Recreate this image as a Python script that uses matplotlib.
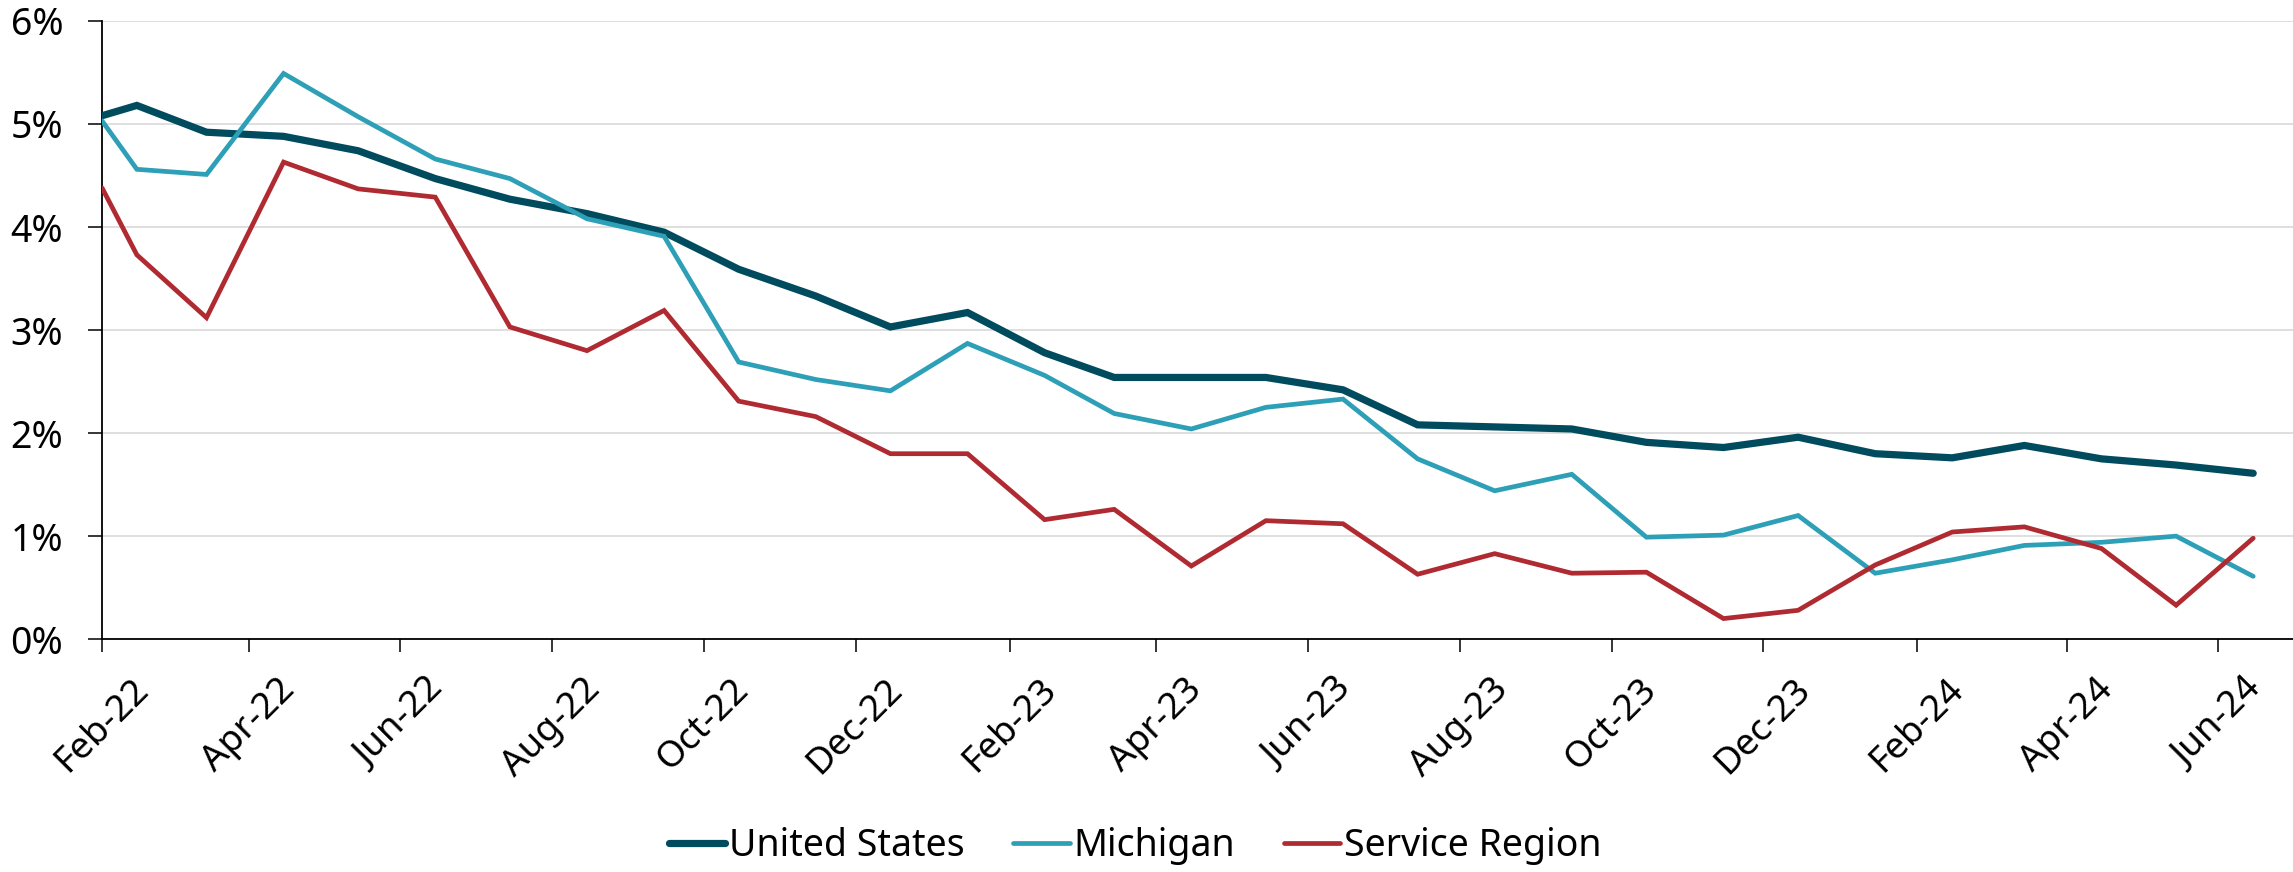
import matplotlib
matplotlib.use("Agg")
import matplotlib.pyplot as plt
import matplotlib.dates as mdates
from matplotlib.ticker import FuncFormatter, MultipleLocator
import pandas as pd

plt.rcParams['font.family'] = ['Noto Sans', 'DejaVu Sans']

dates = ["2022-02-01", "2022-02-15", "2022-03-15", "2022-04-15", "2022-05-15", "2022-06-15",
         "2022-07-15", "2022-08-15", "2022-09-15", "2022-10-15", "2022-11-15", "2022-12-15",
         "2023-01-15", "2023-02-15", "2023-03-15", "2023-04-15", "2023-05-15", "2023-06-15",
         "2023-07-15", "2023-08-15", "2023-09-15", "2023-10-15", "2023-11-15", "2023-12-15",
         "2024-01-15", "2024-02-15", "2024-03-15", "2024-04-15", "2024-05-15", "2024-06-15"]

united_states = [5.08, 5.18, 4.92, 4.88, 4.74, 4.47, 4.27, 4.13, 3.95, 3.59, 3.33, 3.03,
                 3.17, 2.78, 2.54, 2.54, 2.54, 2.42, 2.08, 2.06, 2.04, 1.91, 1.86, 1.96,
                 1.80, 1.76, 1.88, 1.75, 1.69, 1.61]
michigan = [5.03, 4.56, 4.51, 5.49, 5.07, 4.66, 4.47, 4.08, 3.91, 2.69, 2.52, 2.41,
            2.87, 2.56, 2.19, 2.04, 2.25, 2.33, 1.75, 1.44, 1.60, 0.99, 1.01, 1.20,
            0.64, 0.77, 0.91, 0.94, 1.00, 0.61]
service_region = [4.38, 3.73, 3.12, 4.63, 4.37, 4.29, 3.03, 2.80, 3.19, 2.31, 2.16, 1.80,
                  1.80, 1.16, 1.26, 0.71, 1.15, 1.12, 0.63, 0.83, 0.64, 0.65, 0.20, 0.28,
                  0.72, 1.04, 1.09, 0.88, 0.33, 0.98]

series_names = ["United States", "Michigan", "Service Region"]
colors = ["#004B5E", "#2D9FB7", "#B02A31"]
widths = [5.2, 3.4, 3.4]

x = pd.to_datetime(dates)

fig = plt.figure(figsize=(22.93, 8.72), dpi=100)
ax = fig.add_axes([0.0445, 0.267, 0.9555, 0.709])

for vals, name, c, w in zip([united_states, michigan, service_region], series_names, colors, widths):
    ax.plot(x, vals, color=c, lw=w, label=name, solid_capstyle='round', solid_joinstyle='miter', zorder=3)

ax.set_ylim(0, 6)
ax.set_xlim(pd.Timestamp("2022-02-01"), pd.Timestamp("2024-07-01"))
ax.yaxis.set_major_locator(MultipleLocator(1))
ax.yaxis.set_major_formatter(FuncFormatter(lambda v, p: f"{v:.0f}%"))
ax.xaxis.set_major_locator(mdates.MonthLocator(bymonth=[2, 4, 6, 8, 10, 12]))
ax.xaxis.set_major_formatter(mdates.DateFormatter('%b-%y'))

ax.grid(axis='y', color='#D9D9D9', lw=1.2, zorder=0)
ax.set_axisbelow(True)
for s in ['top', 'right']:
    ax.spines[s].set_visible(False)
for s in ['left', 'bottom']:
    ax.spines[s].set_color('black')
    ax.spines[s].set_linewidth(1.3)

ax.tick_params(axis='y', length=10, width=1.1, pad=18, labelsize=27, colors='black')
ax.tick_params(axis='x', length=9.5, width=1.1, pad=14, labelsize=26.5, colors='black')
for lab in ax.get_xticklabels():
    lab.set_rotation(45)
    lab.set_ha('center')
    lab.set_va('top')

handles, labels = ax.get_legend_handles_labels()
fig.legend(handles, labels, loc='center', bbox_to_anchor=(0.495, 0.03), ncol=3, frameon=False,
           fontsize=27, handlelength=1.5, handletextpad=0.1, columnspacing=1.3)

fig.savefig("out.png", dpi=100)
